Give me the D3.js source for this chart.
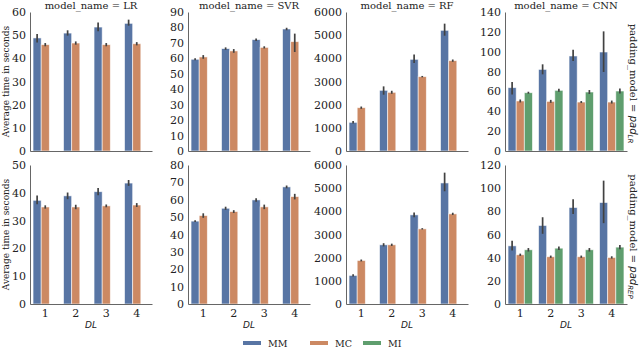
<!DOCTYPE html>
<html>
<head>
<meta charset="utf-8">
<script src="https://cdn.jsdelivr.net/npm/d3@7"></script>
<style>
  body { margin: 0; background: #fff; }
  svg text { font-family: "DejaVu Serif", serif; fill: #222; }
</style>
</head>
<body>
<svg id="chart" width="640" height="347"></svg>
<script>
// categories
var dls = [1, 2, 3, 4];
var hues = ["MM", "MC", "MI"];
var models = ["LR", "SVR", "RF", "CNN"];
var paddings = ["LR", "REP"];

// axis maxima / tick steps per model, one row per padding model
var yMaxPadLR  = [60, 90, 6000, 140];
var yMaxPadREP = [50, 80, 6000, 120];
var yStep      = [10, 10, 1000, 20];

// rows: [DL, hue, mean, ci low, ci high]
var padLR_LR = [
  [1,"MM",48.8,46.8,50.5],[1,"MC",45.9,45.2,46.6],
  [2,"MM",50.9,49.8,52.1],[2,"MC",46.6,45.9,47.3],
  [3,"MM",53.5,51.7,55.5],[3,"MC",45.9,45.2,46.6],
  [4,"MM",55.1,54.1,56.7],[4,"MC",46.3,45.6,47.0]
];
var padLR_SVR = [
  [1,"MM",59.4,58.7,60.1],[1,"MC",60.9,59.7,62.1],
  [2,"MM",66.3,65.5,67.1],[2,"MC",64.8,63.6,66.0],
  [3,"MM",72.1,71.3,72.9],[3,"MC",67.1,66.4,67.8],
  [4,"MM",79.0,78.2,79.8],[4,"MC",70.8,64.1,76.0]
];
var padLR_RF = [
  [1,"MM",1237,1190,1290],[1,"MC",1870,1820,1920],
  [2,"MM",2619,2430,2790],[2,"MC",2532,2470,2600],
  [3,"MM",3957,3800,4170],[3,"MC",3209,3180,3240],
  [4,"MM",5209,4978,5497],[4,"MC",3899,3850,3950]
];
var padLR_CNN = [
  [1,"MM",63.8,57.0,69.5],[1,"MC",50.4,48.9,51.9],[1,"MI",58.7,57.7,59.7],
  [2,"MM",82.2,77.2,87.3],[2,"MC",50.0,48.5,51.5],[2,"MI",61.1,59.6,62.6],
  [3,"MM",95.7,90.6,102.0],[3,"MC",49.3,48.3,50.3],[3,"MI",59.4,57.4,61.4],
  [4,"MM",99.7,79.6,120.5],[4,"MC",49.3,47.8,50.8],[4,"MI",60.4,57.9,62.9]
];
var padREP_LR = [
  [1,"MM",37.3,35.9,39.0],[1,"MC",34.9,34.3,35.5],
  [2,"MM",38.9,37.7,40.1],[2,"MC",34.9,34.1,35.7],
  [3,"MM",40.4,39.1,41.7],[3,"MC",35.3,34.8,35.8],
  [4,"MM",43.5,42.5,44.6],[4,"MC",35.6,34.9,36.3]
];
var padREP_SVR = [
  [1,"MM",47.7,47.2,48.2],[1,"MC",50.9,49.6,52.2],
  [2,"MM",55.1,54.2,56.0],[2,"MC",53.2,52.4,54.0],
  [3,"MM",59.9,58.9,60.9],[3,"MC",55.9,54.6,57.2],
  [4,"MM",67.4,66.6,68.2],[4,"MC",61.8,60.2,63.4]
];
var padREP_RF = [
  [1,"MM",1234,1184,1284],[1,"MC",1880,1840,1920],
  [2,"MM",2555,2485,2625],[2,"MC",2555,2505,2605],
  [3,"MM",3847,3747,3947],[3,"MC",3244,3214,3274],
  [4,"MM",5225,4866,5670],[4,"MC",3890,3840,3940]
];
var padREP_CNN = [
  [1,"MM",50.2,46.2,54.5],[1,"MC",42.5,41.5,43.5],[1,"MI",46.8,45.3,48.3],
  [2,"MM",67.8,60.6,74.9],[2,"MC",40.8,39.8,41.8],[2,"MI",48.2,46.7,49.7],
  [3,"MM",83.3,77.8,90.4],[3,"MC",40.8,39.8,41.8],[3,"MI",46.8,45.3,48.3],
  [4,"MM",87.6,69.8,106.5],[4,"MC",40.2,39.2,41.2],[4,"MI",49.1,47.3,50.9]
];

var panelData = [
  [padLR_LR, padLR_SVR, padLR_RF, padLR_CNN],
  [padREP_LR, padREP_SVR, padREP_RF, padREP_CNN]
];
var yMaxes = [yMaxPadLR, yMaxPadREP];

var colors = d3.scaleOrdinal().domain(hues).range(["#5875a4", "#cc8963", "#5f9e6e"]);

var svg = d3.select("#chart");
var panelX = [30, 188, 346, 505];
var panelW = 122;
var rowTop = [12, 165];
var panelH = 139;

paddings.forEach(function(pad, r){
    models.forEach(function(model, c){
        var x0 = panelX[c], y0 = rowTop[r];
        var g = svg.append("g");
        var yMax = yMaxes[r][c];

        var x = d3.scaleBand().domain(dls).range([x0, x0 + panelW])
            .paddingInner(0.2).paddingOuter(0.1);
        var xh = d3.scaleBand().domain(hues).range([0, x.bandwidth()]);
        var y = d3.scaleLinear().domain([0, yMax]).range([y0 + panelH, y0]);

        var rows = panelData[r][c];

        g.selectAll("rect.bar").data(rows).enter().append("rect")
            .attr("class", "bar")
            .attr("x", function(d){ return x(d[0]) + xh(d[1]); })
            .attr("width", xh.bandwidth())
            .attr("y", function(d){ return y(d[2]); })
            .attr("height", function(d){ return y(0) - y(d[2]); })
            .style("fill", function(d){ return colors(d[1]); })
            .style("stroke", "#fff")
            .style("stroke-opacity", 0.7)
            .style("stroke-width", 0.8);

        g.selectAll("line.err").data(rows).enter().append("line")
            .attr("class", "err")
            .attr("x1", function(d){ return x(d[0]) + xh(d[1]) + xh.bandwidth() / 2; })
            .attr("x2", function(d){ return x(d[0]) + xh(d[1]) + xh.bandwidth() / 2; })
            .attr("y1", function(d){ return y(d[3]); })
            .attr("y2", function(d){ return y(d[4]); })
            .style("stroke", "#424242")
            .style("stroke-width", 1.7);

        // y axis
        var yAxis = d3.axisLeft(y).tickValues(d3.range(0, yMax + 1, yStep[c]))
            .tickFormat(d3.format("d"))
            .tickSize(0).tickPadding(4);
        var ya = g.append("g").attr("transform", "translate(" + x0 + ",0)").call(yAxis);
        ya.select(".domain").style("stroke", "#555").style("stroke-width", 0.9);
        ya.selectAll("text").style("font-family", "DejaVu Serif").style("font-size", "11px").style("fill", "#222");

        // x axis
        var xAxis = d3.axisBottom(x).tickSize(0).tickPadding(5);
        var xa = g.append("g").attr("transform", "translate(0," + (y0 + panelH) + ")").call(xAxis);
        xa.select(".domain").style("stroke", "#555").style("stroke-width", 0.9);
        xa.selectAll("text").style("font-family", "DejaVu Serif").style("font-size", "11px").style("fill", "#222");
        if (r == 0) xa.selectAll(".tick").remove();

        if (r == 0) {
            g.append("text")
                .attr("x", x0 + panelW / 2)
                .attr("y", 9)
                .attr("text-anchor", "middle")
                .style("font-size", "10px")
                .text("model_name = " + model);
        }
        if (r == 1) {
            g.append("text")
                .attr("x", x0 + panelW / 2)
                .attr("y", 328)
                .attr("text-anchor", "middle")
                .style("font-family", "DejaVu Sans")
                .style("font-style", "italic")
                .style("font-size", "9px")
                .text("DL");
        }
        if (c == 0) {
            g.append("text")
                .attr("transform", "translate(9," + (y0 + panelH / 2) + ") rotate(-90)")
                .attr("text-anchor", "middle")
                .style("font-size", "9px")
                .text("Average time in seconds");
        }
        if (c == 3) {
            var t = g.append("text")
                .attr("transform", "translate(630," + (y0 + panelH / 2 + 2) + ") rotate(90)")
                .attr("text-anchor", "middle")
                .style("font-size", "10px");
            t.append("tspan").text("padding_model = ");
            t.append("tspan").style("font-family", "DejaVu Sans").style("font-style", "italic").text("pad");
            t.append("tspan").attr("dy", 2.5).style("font-family", "DejaVu Sans").style("font-style", "italic")
                .style("font-size", "7px").text(pad);
        }
    });
});

// legend
var legendX = [243, 310, 363];
var lg = svg.append("g");
hues.forEach(function(h, i){
    lg.append("rect").attr("x", legendX[i]).attr("y", 341).attr("width", 18).attr("height", 4)
        .style("fill", colors(h));
    lg.append("text").attr("x", legendX[i] + 25).attr("y", 346.5)
        .style("font-size", "9.5px").text(h);
});
</script>
</body>
</html>
